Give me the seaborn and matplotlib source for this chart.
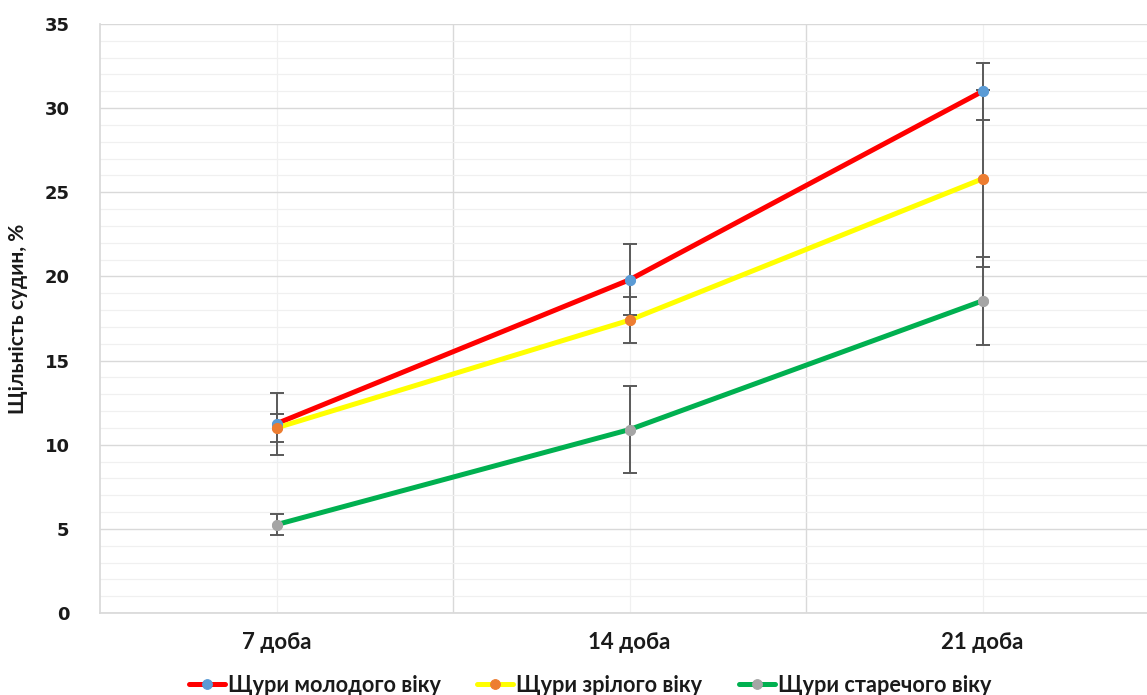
import numpy as np
import pandas as pd
import matplotlib
matplotlib.use("Agg")
import matplotlib.pyplot as plt
from matplotlib.ticker import MultipleLocator
import seaborn as sns

categories = ["7 доба", "14 доба", "21 доба"]
series_names = ["Щури молодого віку", "Щури зрілого віку", "Щури старечого віку"]
young = [11.25, 19.8, 31.0]
young_err = [1.84, 2.1, 1.7]
mature = [11.0, 17.4, 25.8]
mature_err = [0.83, 1.38, 5.25]
old = [5.25, 10.9, 18.55]
old_err = [0.63, 2.57, 2.62]
y_ticks = [0, 5, 10, 15, 20, 25, 30, 35]

line_colors = ["#FF0000", "#FFFF00", "#00B050"]
marker_colors = ["#5B9BD5", "#ED7D31", "#A5A5A5"]

values = [young, mature, old]
errors = [young_err, mature_err, old_err]

sns.set_theme(style="white")
plt.rcParams["font.family"] = ["DejaVu Sans"]

fig = plt.figure(figsize=(11.47, 6.95), dpi=100)
ax = fig.add_axes([100 / 1147, 82 / 695, 1059 / 1147, 589 / 695])

xpos = np.arange(len(categories))
for name, vals, errs, lc, mc in zip(series_names, values, errors, line_colors, marker_colors):
    df = pd.DataFrame({"x": xpos, "y": vals})
    sns.lineplot(data=df, x="x", y="y", ax=ax, color=lc, linewidth=3.6,
                 marker="o", markersize=7, markerfacecolor=mc, markeredgecolor=mc,
                 label=name, zorder=3)
    ax.errorbar(xpos, vals, yerr=errs, fmt="none", ecolor="#595959",
                elinewidth=1.4, capsize=5, capthick=1.4, zorder=4)
    ax.plot(xpos, vals, linestyle="none", marker="o", markersize=7,
            markerfacecolor=mc, markeredgecolor=mc, zorder=5)

ax.set_xlim(-0.5, 2.5)
ax.set_ylim(0, 35)
ax.set_yticks(y_ticks)
ax.set_yticklabels([str(v) for v in y_ticks], fontsize=13, fontweight="bold",
                   color="#1A1A1A")
ax.yaxis.set_minor_locator(MultipleLocator(1))
ax.set_xticks(xpos)
ax.set_xticklabels(categories, fontsize=16, fontweight="bold",
                   family=["Lato", "DejaVu Sans"], color="#1A1A1A")
ax.set_xticks([0.5, 1.5], minor=True)

ax.grid(which="major", axis="y", color="#D9D9D9", linewidth=1.0)
ax.grid(which="minor", axis="y", color="#F0F0F0", linewidth=0.9)
ax.grid(which="major", axis="x", color="#F0F0F0", linewidth=0.9)
ax.grid(which="minor", axis="x", color="#D9D9D9", linewidth=1.0)
ax.set_axisbelow(True)

for side in ["top", "right"]:
    ax.spines[side].set_visible(False)
ax.spines["left"].set_color("#D9D9D9")
ax.spines["bottom"].set_color("#D9D9D9")

ax.tick_params(axis="both", which="both", length=0)
ax.tick_params(axis="y", pad=22)
ax.tick_params(axis="x", pad=14)

ax.set_xlabel("")
ax.set_ylabel("Щільність судин, %", fontsize=15, family=["Lato", "DejaVu Sans"],
              fontweight="bold", color="#1A1A1A", labelpad=12)

handles, labels = ax.get_legend_handles_labels()
if ax.get_legend():
    ax.get_legend().remove()
leg = fig.legend(handles, labels, loc="center", bbox_to_anchor=(590 / 1147, 1 - 685 / 695),
                 ncol=3, frameon=False, handlelength=1.65, handletextpad=0.14,
                 columnspacing=1.7, prop={"family": ["Lato", "DejaVu Sans"],
                                          "weight": "bold", "size": 15.6})
for t in leg.get_texts():
    t.set_color("#1A1A1A")

fig.savefig("out.png", dpi=100)
